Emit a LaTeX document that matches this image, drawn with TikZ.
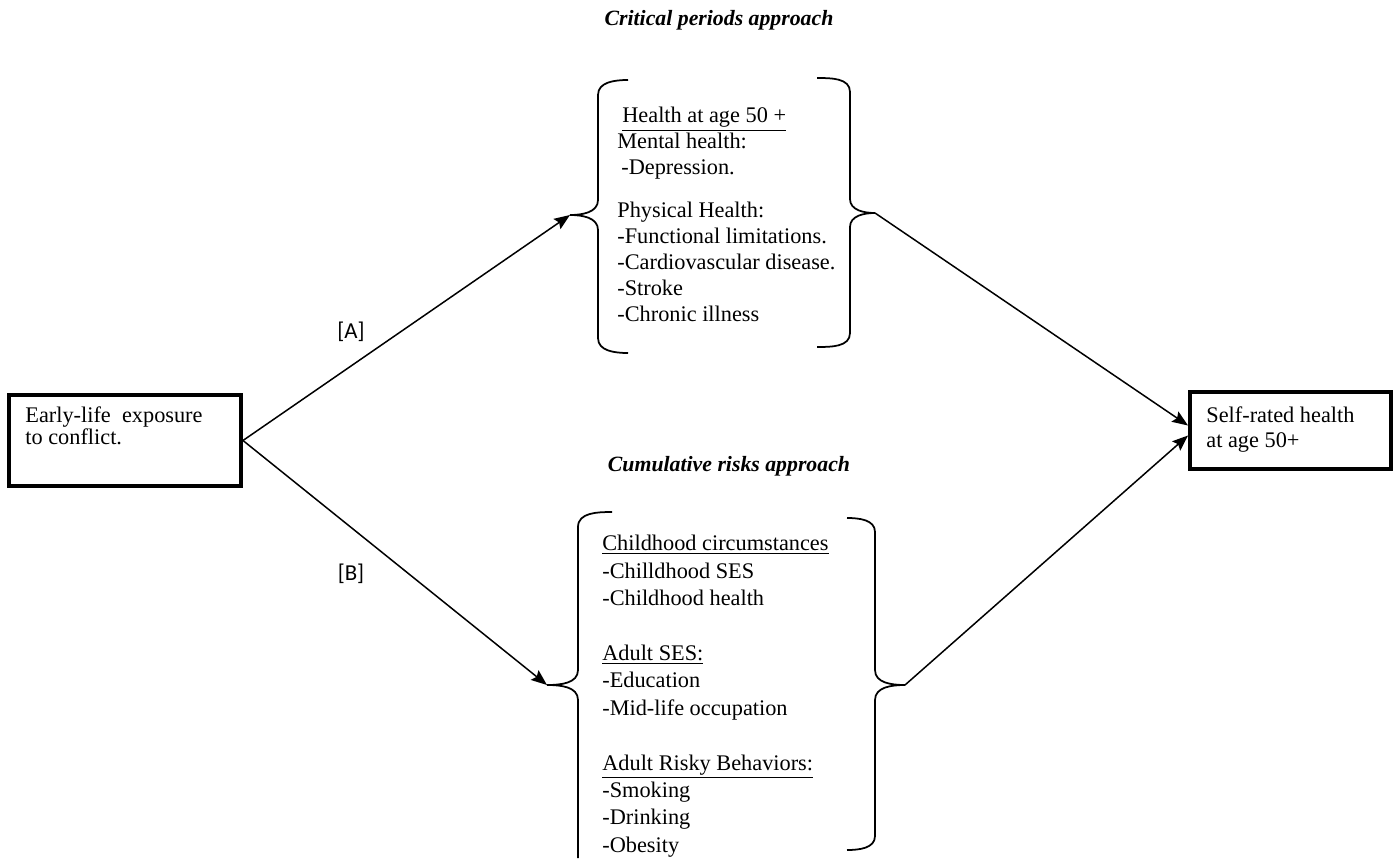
\documentclass[tikz,border=0pt]{standalone}
\usepackage{fontspec}
\setmainfont{Liberation Serif}
\newfontfamily\labelfont{Carlito}
\usetikzlibrary{arrows.meta,positioning}

\begin{document}
\begin{tikzpicture}[x=0.02cm,y=-0.02cm,>={Stealth[length=9pt,width=7pt,inset=1.5pt]},
outerbox/.style={draw,line width=0.08cm,inner sep=0pt},
boxtext/.style={inner sep=0pt,align=left,font=\fontsize{12.7}{12.5}\selectfont},
listtext/.style={inner sep=0pt,align=left,font=\fontsize{12.7}{14.8}\selectfont},
heading/.style={inner sep=0pt,font=\fontsize{12.4}{14}\selectfont\bfseries\itshape},
pathlabel/.style={inner sep=0pt,font=\labelfont\fontsize{13}{15}\selectfont},
brak/.style={line width=0.035cm},
link/.style={->,line width=0.03cm}]
\useasboundingbox (0,0) rectangle (1395,858);

% exposure and outcome boxes
\node (exposure) [outerbox,minimum width=4.64cm,minimum height=1.82cm] at (125,440.5) {};
\node (exposure_txt) [boxtext,below right=0.26cm and 0.36cm of exposure.north west]
{Early-life\ \ exposure\\to conflict.};
\node (selfrated) [outerbox,minimum width=4.02cm,minimum height=1.54cm] at (1290.5,430.5) {};
\node (selfrated_txt) [boxtext,font=\fontsize{12.7}{14.7}\selectfont,below right=0.32cm and 0.36cm of selfrated.north west]
{Self-rated health\\at age 50+};

% titles and path labels
\node (critical_title) [heading] at (719,20) {Critical periods approach};
\node (cumulative_title) [heading] at (729,466) {Cumulative risks approach};
\node (path_a) [pathlabel] at (351,332) {[A]};
\node (path_b) [pathlabel] at (351,574) {[B]};

% critical periods block
\draw[brak] (628,80) to[out=180,in=90] (598,95) -- (598,200) to[out=-90,in=0] (570,215) coordinate (critIn)
to[out=0,in=90] (598,230) -- (598,338) to[out=-90,in=180] (628,353);
\draw[brak] (817,78) to[out=0,in=90] (850,92) -- (850,199) to[out=-90,in=180] (875,213) coordinate (critOut)
to[out=180,in=90] (850,227) -- (850,333) to[out=-90,in=0] (817,347);
\node (critical_list) [listtext,anchor=north west] at (617,107)
{\hspace{0.1cm}\underline{Health at age 50 +}\\Mental health:\\\hspace{0.08cm}-Depression.\\[9.6pt]
Physical Health:\\-Functional limitations.\\-Cardiovascular disease.\\-Stroke\\-Chronic illness};

% cumulative risks block
\draw[brak] (612,512) to[out=180,in=90] (578,527) -- (578,670) to[out=-90,in=0] (547,685) coordinate (cumIn)
to[out=0,in=90] (578,700) -- (578,858);
\draw[brak] (847,518) to[out=0,in=90] (875,532) -- (875,670) to[out=-90,in=180] (905,685) coordinate (cumOut)
to[out=180,in=90] (875,700) -- (875,836) to[out=-90,in=0] (847,850);
\node (cumulative_list) [listtext,font=\fontsize{12.7}{15.6}\selectfont,anchor=north west] at (602,535)
{\underline{Childhood circumstances}\\-Chilldhood SES\\-Childhood health\\[15.6pt]
\underline{Adult SES:}\\-Education\\-Mid-life occupation\\[15.6pt]
\underline{Adult Risky Behaviors:}\\-Smoking\\-Drinking\\-Obesity};

% connectors
\draw[link] (exposure.east) -- (critIn);
\draw[link] (exposure.east) -- (cumIn);
\draw[link] (critOut) -- ([yshift=0.1cm]selfrated.west);
\draw[link] (cumOut) -- ([yshift=-0.1cm]selfrated.west);

\end{tikzpicture}
\end{document}
